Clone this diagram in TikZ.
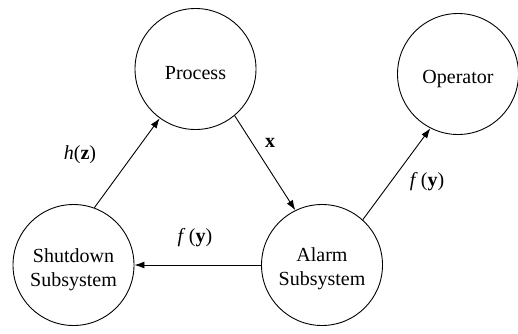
\documentclass[tikz,border=0pt]{standalone}
\usepackage{fontspec}
\setmainfont{Liberation Serif}
\usetikzlibrary{arrows.meta}
\begin{document}
\begin{tikzpicture}[x=1pt,y=1pt,
  blob/.style={draw,circle,line width=0.9pt,minimum size=121pt,inner sep=0pt},
  blocktext/.style={align=center,inner sep=0pt,font=\fontsize{20}{24}\selectfont},
  flow/.style={line width=0.9pt,-{Latex[length=10pt,width=7pt]}},
  lbl/.style={font=\fontsize{20}{23}\selectfont}]
\useasboundingbox (0,0) rectangle (518,333);
% the four blocks
\node[blob] (pr) at (195.5,264) {};
\node[blob] (op) at (458,259) {};
\node[blob] (sd) at (73.5,68) {};
\node[blob] (al) at (322,68) {};
\node[blocktext] (prt) at ([yshift=-4pt]pr.center) {Process};
\node[blocktext] (opt) at ([yshift=-5pt]op.center) {Operator};
\node[blocktext] (sdt) at ([yshift=-5pt]sd.center) {Shutdown\\Subsystem};
\node[blocktext] (alt) at ([yshift=-4pt]al.center) {Alarm\\Subsystem};
% signal flow
\draw[flow] (sd.70) -- (pr.234);
\draw[flow] (pr.310) -- (al.116);
\draw[flow] (al.west) -- (sd.east);
\draw[flow] (al.48) -- (op.243);
\node[lbl] (lh) at (80,178) {\textit{h}(\textbf{z})};
\node[lbl] (lx) at (270,190) {\textbf{x}};
\node[lbl] (lf1) at (195,95) {\textit{f}\,(\textbf{y})};
\node[lbl] (lf2) at (427,151) {\textit{f}\,(\textbf{y})};
\end{tikzpicture}
\end{document}
